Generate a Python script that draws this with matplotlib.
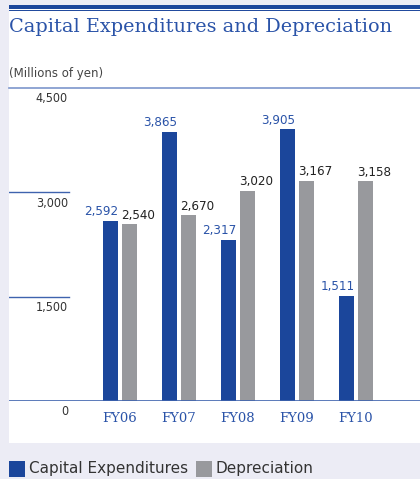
import numpy as np
import matplotlib.pyplot as plt
from matplotlib.patches import Rectangle
from matplotlib.lines import Line2D

years = ['FY06', 'FY07', 'FY08', 'FY09', 'FY10']
capex = [2592, 3865, 2317, 3905, 1511]
depreciation = [2540, 2670, 3020, 3167, 3158]
yticks = [0, 1500, 3000, 4500]

blue = '#1b469b'
gray = '#98999d'
text_blue = '#2a53a8'
line_blue = '#3f63ae'
narrow = dict(family=['Liberation Sans Narrow', 'DejaVu Sans'], stretch='condensed')

W, H = 420, 479
fig = plt.figure(figsize=(W / 100, H / 100), dpi=100)
fig.patch.set_facecolor('#ececf5')

# white panel and the double rule at the top
fig.add_artist(Rectangle((9 / W, (H - 443) / H), 1, (443 - 9) / H,
                         transform=fig.transFigure, facecolor='white', edgecolor='none', zorder=0))
fig.add_artist(Rectangle((9 / W, (H - 8.5) / H), 1, 3.2 / H,
                         transform=fig.transFigure, facecolor=blue, edgecolor='none'))
fig.add_artist(Line2D([9 / W, 1], [(H - 9.8) / H] * 2, transform=fig.transFigure,
                      color=blue, lw=0.7))

fig.text(9 / W, (H - 27) / H, 'Capital Expenditures and Depreciation',
         family='DejaVu Serif', fontsize=13.9, color=text_blue, va='center', ha='left')
fig.text(9 / W, (H - 73) / H, '(Millions of yen)', family='DejaVu Sans',
         fontsize=8.5, color='#444444', va='center', ha='left')

ax = fig.add_axes([9 / W, (H - 401) / H, 411 / W, (401 - 88) / H])
ax.set_facecolor('none')
for s in ax.spines.values():
    s.set_visible(False)

x = np.arange(len(years))
w = 0.27
off = 0.161
ax.bar(x - off, capex, w, color=blue, zorder=2)
ax.bar(x + off, depreciation, w, color=gray, zorder=2)

for i in range(len(years)):
    ax.annotate(f'{capex[i]:,}', (x[i] - off + w / 2, capex[i]), xytext=(0, 2),
                textcoords='offset points', ha='right', va='bottom',
                fontsize=9.5, color=text_blue, **narrow)
    ax.annotate(f'{depreciation[i]:,}', (x[i] + off - w / 2, depreciation[i]), xytext=(0, 2),
                textcoords='offset points', ha='left', va='bottom',
                fontsize=9.5, color='#222222', **narrow)

ax.set_xlim(-1.881, 5.085)
ax.set_ylim(0, 4500)
ax.set_xticks([])
ax.set_yticks([])

# axis rules: full width at top and bottom, short ones in between
ax.axhline(4500, color='#7d96cc', lw=1.2, clip_on=False)
ax.axhline(0, color=line_blue, lw=1.2, zorder=3)
for v in [1500, 3000]:
    ax.plot([-1.881, -1.881 + 60 / 59], [v, v], color=line_blue, lw=1.0)

for v in yticks:
    ax.annotate(f'{v:,}', (-1.881 + 59 / 59, v), xytext=(0, -3), textcoords='offset points',
                ha='right', va='top', fontsize=9, color='#333333', **narrow)

for i, yr in enumerate(years):
    ax.annotate(yr, (x[i], 0), xytext=(0, -8), textcoords='offset points', ha='center',
                va='top', family='DejaVu Serif', fontsize=9.5, color=text_blue)

# legend row under the panel
fig.add_artist(Rectangle((9 / W, (H - 477) / H), 16 / W, 16 / H,
                         transform=fig.transFigure, facecolor=blue, edgecolor='none'))
fig.text(29 / W, (H - 469) / H, 'Capital Expenditures', family='DejaVu Sans',
         fontsize=11, color='#333333', va='center', ha='left')
fig.add_artist(Rectangle((196 / W, (H - 477) / H), 16 / W, 16 / H,
                         transform=fig.transFigure, facecolor=gray, edgecolor='none'))
fig.text(216 / W, (H - 469) / H, 'Depreciation', family='DejaVu Sans',
         fontsize=11, color='#333333', va='center', ha='left')

plt.savefig('out.png', dpi=100)
